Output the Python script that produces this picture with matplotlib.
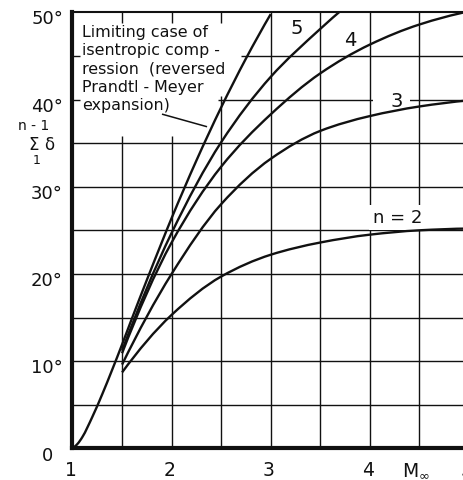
import matplotlib
matplotlib.use("Agg")
import numpy as np
import matplotlib.pyplot as plt
from matplotlib.path import Path
from matplotlib.patches import PathPatch
from matplotlib.transforms import ScaledTranslation

# Free-stream Mach number vs. total flow deflection of an n-shock compression
m_limit = [1.0, 1.05, 1.1, 1.2, 1.3, 1.4, 1.5, 1.6, 1.75, 1.9, 2.0, 2.25, 2.5, 2.75, 3.0]
d_limit = [0.0, 0.5, 1.3, 3.6, 6.2, 9.0, 11.9, 14.9, 19.3, 23.6, 26.4, 33.0, 39.1, 44.7, 49.8]

m_n5 = [1.5, 2.0, 2.5, 3.0, 3.5, 3.75]
d_n5 = [11.2, 24.7, 35.1, 42.6, 48.1, 50.6]

m_n4 = [1.5, 2.0, 2.5, 3.0, 3.5, 4.0, 4.5, 5.0]
d_n4 = [10.9, 23.6, 32.3, 38.3, 43.0, 46.3, 48.6, 50.1]

m_n3 = [1.5, 2.0, 2.5, 3.0, 3.5, 4.0, 4.5, 5.0]
d_n3 = [9.6, 20.0, 28.0, 33.2, 36.4, 38.1, 39.2, 39.9]

m_n2 = [1.5, 2.0, 2.5, 3.0, 3.5, 4.0, 4.5, 5.0]
d_n2 = [8.7, 15.3, 19.7, 22.2, 23.6, 24.5, 25.0, 25.2]

x_ticks = [1, 2, 3, 4, 5]
x_tick_labels = ["1", "2", "3", "4", "5"]
y_ticks = [0, 10, 20, 30, 40, 50]
y_tick_labels = ["0", "10°", "20°", "30°", "40°", "50°"]

curve_labels = ["5", "4", "3", "n = 2"]
limit_note = ("Limiting case of\nisentropic comp -\nression  (reversed\n"
              "Prandtl - Meyer\nexpansion)")

plt.rcParams["font.family"] = ["DejaVu Sans"]


def hermite_slopes(x, y):
    """Shape-preserving (PCHIP-style) tangents at the given nodes."""
    x = np.asarray(x, float)
    y = np.asarray(y, float)
    h = np.diff(x)
    d = np.diff(y) / h
    m = np.zeros_like(x)
    for k in range(1, len(x) - 1):
        if d[k - 1] * d[k] > 0:
            w1 = 2 * h[k] + h[k - 1]
            w2 = h[k] + 2 * h[k - 1]
            m[k] = (w1 + w2) / (w1 / d[k - 1] + w2 / d[k])
    m[0] = ((2 * h[0] + h[1]) * d[0] - h[0] * d[1]) / (h[0] + h[1])
    if np.sign(m[0]) != np.sign(d[0]):
        m[0] = 0.0
    m[-1] = ((2 * h[-1] + h[-2]) * d[-1] - h[-1] * d[-2]) / (h[-1] + h[-2])
    if np.sign(m[-1]) != np.sign(d[-1]):
        m[-1] = 0.0
    return m


def smooth_curve(ax, x, y, **kw):
    """Draw a smooth cubic Bezier path through the nodes."""
    m = hermite_slopes(x, y)
    verts = [(x[0], y[0])]
    codes = [Path.MOVETO]
    for k in range(len(x) - 1):
        h = x[k + 1] - x[k]
        verts += [(x[k] + h / 3, y[k] + m[k] * h / 3),
                  (x[k + 1] - h / 3, y[k + 1] - m[k + 1] * h / 3),
                  (x[k + 1], y[k + 1])]
        codes += [Path.CURVE4] * 3
    patch = PathPatch(Path(verts, codes), fill=False, **kw)
    ax.add_patch(patch)
    return patch


W, H = 464, 481
fig = plt.figure(figsize=(W / 100, H / 100), dpi=100)
x0, x5 = 72.5, 469.0
y0, y50 = 449.3, 13.3
ax = fig.add_axes([x0 / W, (H - y0) / H, (x5 - x0) / W, (y0 - y50) / H])
ax.set_xlim(1, 5)
ax.set_ylim(0, 50)
ax.set_xticks([])
ax.set_yticks([])

ink = "#111111"
grid_kw = dict(color=ink, lw=1.0, zorder=1)

# grid, left open where the note sits in the upper-left corner
for gx in [1.5, 2.0]:
    ax.vlines(gx, 0, 35.8, **grid_kw)
    ax.vlines(gx, 48.8, 50, **grid_kw)
ax.vlines(2.5, 0, 40.4, **grid_kw)
ax.vlines(2.5, 48.8, 50, **grid_kw)
for gx in [3.0, 3.5, 4.0, 4.5]:
    ax.vlines(gx, 0, 50, **grid_kw)
for gy in [5, 10, 15, 20, 25, 30, 35]:
    ax.hlines(gy, 1, 5, **grid_kw)
ax.hlines(40, 2.47, 5, **grid_kw)
ax.hlines(45, 2.70, 5, **grid_kw)
for gy in [40, 45]:
    ax.hlines(gy, 1, 1.08, **grid_kw)

for side, lw in [("left", 3.0), ("bottom", 3.0), ("top", 1.5), ("right", 1.5)]:
    ax.spines[side].set_linewidth(lw)
    ax.spines[side].set_color(ink)
    ax.spines[side].set_zorder(4)

curve_kw = dict(edgecolor=ink, lw=1.7, zorder=3, joinstyle="round", capstyle="butt")
for mx, dy in [(m_limit, d_limit), (m_n5, d_n5), (m_n4, d_n4), (m_n3, d_n3), (m_n2, d_n2)]:
    smooth_curve(ax, mx, dy, **curve_kw)

# curve labels
ax.text(3.26, 48.2, curve_labels[0], fontsize=14, ha="center", va="center", color=ink)
ax.text(3.80, 46.9, curve_labels[1], fontsize=14, ha="center", va="center", color=ink)
ax.add_patch(plt.Rectangle((4.03, 39.3), 0.37, 1.4, fc="white", ec="none", zorder=1.5))
ax.text(4.27, 39.9, curve_labels[2], fontsize=14, ha="center", va="center", color=ink,
        zorder=2)
ax.text(4.28, 26.5, curve_labels[3], fontsize=13, ha="center", va="center", color=ink,
        zorder=2,
        bbox=dict(boxstyle="square,pad=0.2", fc="white", ec="none"))

# note for the limiting curve with its leader
ax.text(1.10, 48.65, limit_note, fontsize=11.4, ha="left", va="top", color=ink,
        linespacing=1.27)
ax.plot([1.91, 2.35], [38.3, 36.9], color=ink, lw=1.1, zorder=3)

# tick labels
for val, lab in zip(y_ticks, y_tick_labels):
    shift = 9.5 if lab.endswith("°") else 19.5
    tr = ax.get_yaxis_transform() + ScaledTranslation(-shift / 100, -6 / 100 if val else -7 / 100,
                                                      fig.dpi_scale_trans)
    ax.text(0, val, lab, transform=tr, fontsize=13, ha="right", va="center", color=ink,
            clip_on=False)
for val, lab in zip(x_ticks, x_tick_labels):
    tr = ax.get_xaxis_transform() + ScaledTranslation(-2 / 100, -21 / 100, fig.dpi_scale_trans)
    ax.text(val, 0, lab, transform=tr, fontsize=13.5, ha="center", va="center", color=ink,
            clip_on=False)
tr = ax.get_xaxis_transform() + ScaledTranslation(0, -21 / 100, fig.dpi_scale_trans)
ax.text(4.46, 0, r"M$_\infty$", transform=tr, fontsize=13.5, ha="center", va="center",
        color=ink, clip_on=False)

# vertical axis quantity: sum of delta from 1 to n-1
fig.text(34 / W, 1 - 126 / H, "n - 1", fontsize=10, ha="center", va="center", color=ink)
fig.text(34 / W, 1 - 145 / H, "Σ", fontsize=12, ha="center", va="center", color=ink)
fig.text(49 / W, 1 - 145 / H, "δ", fontsize=12, ha="center", va="center", color=ink)
fig.text(37 / W, 1 - 160 / H, "1", fontsize=9, ha="center", va="center", color=ink)

fig.savefig("out.png", dpi=100, facecolor="white")
